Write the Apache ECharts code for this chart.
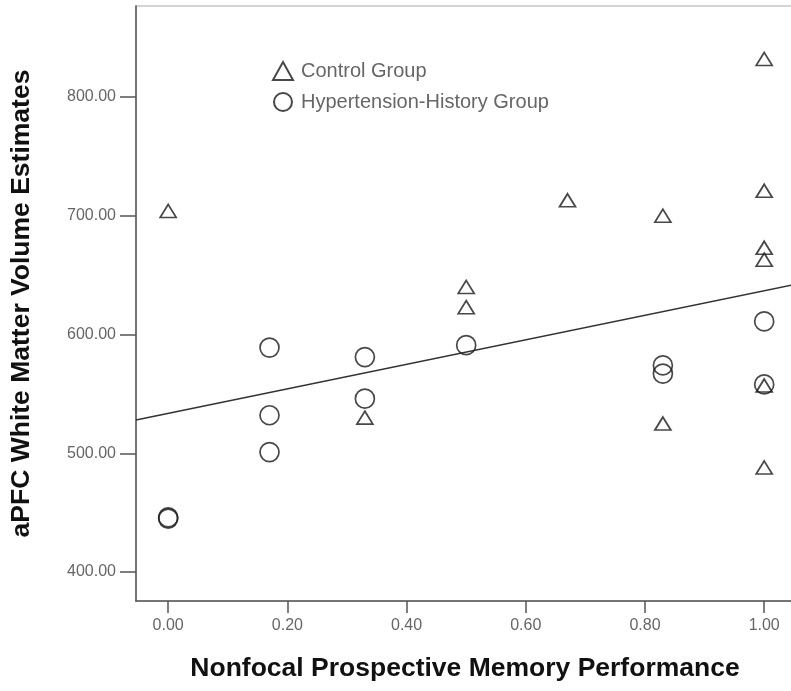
<!DOCTYPE html>
<html>
<head>
<meta charset="utf-8">
<script src="https://cdn.jsdelivr.net/npm/echarts@6/dist/echarts.min.js"></script>
<style>
  html, body { margin: 0; padding: 0; background: #fff; }
  #chart { width: 791px; height: 691px; }
</style>
</head>
<body>
<div id="chart"></div>
<script>
// values
var xTicks = [0, 0.2, 0.4, 0.6, 0.8, 1.0];
var yTicks = [400, 500, 600, 700, 800];

var controlX = [0.00, 0.33, 0.50, 0.50, 0.67, 0.83, 0.83, 1.00, 1.00, 1.00, 1.00, 1.00, 1.00];
var controlY = [704, 530, 640, 623, 713, 700, 525, 832, 721, 673, 663, 557, 488];

var hyperX = [0.00, 0.00, 0.17, 0.17, 0.17, 0.33, 0.33, 0.50, 0.83, 0.83, 1.00, 1.00];
var hyperY = [446, 445, 589, 532, 501, 581, 546, 591, 574, 567, 611, 558];

// fit line end points (x, y)
var fitX = [-0.054, 1.05];
var fitY = [528, 642];

function pairs(xs, ys) {
    var out = [];
    for (var i = 0; i < xs.length; i++) out.push([xs[i], ys[i]]);
    return out;
}

var chart = echarts.init(document.getElementById('chart'));
var font = '"Liberation Sans", Arial, sans-serif';

var option = {
    animation: false,
    backgroundColor: '#fff',
    grid: {
        left: 136, top: 6, right: -3, bottom: 90,
        outerBoundsMode: 'none',
        show: true, borderColor: '#c8c8c8', borderWidth: 1.5
    },
    legend: {
        orient: 'vertical',
        left: 267, top: 56,
        itemWidth: 20, itemHeight: 18, itemGap: 11,
        textStyle: { fontFamily: font, fontSize: 20, color: '#666', padding: [0, 0, 0, 3] },
        data: ['Control Group', 'Hypertension-History Group']
    },
    xAxis: {
        type: 'value',
        min: -0.054, max: 1.05,
        splitLine: { show: false },
        axisLine: { show: true, onZero: false, lineStyle: { color: '#555', width: 1.5 } },
        axisTick: { show: true, length: 12, customValues: xTicks, lineStyle: { color: '#555', width: 1.5 } },
        axisLabel: {
            customValues: xTicks, margin: 17,
            fontFamily: font, fontSize: 16, color: '#666',
            formatter: function (v) { return v.toFixed(2); }
        },
        name: 'Nonfocal Prospective Memory Performance',
        nameLocation: 'middle', nameGap: 54,
        nameTextStyle: { fontFamily: font, fontSize: 26.5, fontWeight: 'bold', color: '#111' }
    },
    yAxis: {
        type: 'value',
        min: 375.6, max: 876.6,
        splitLine: { show: false },
        axisLine: { show: true, onZero: false, lineStyle: { color: '#555', width: 1.5 } },
        axisTick: { show: true, length: 16, customValues: yTicks, lineStyle: { color: '#555', width: 1.5 } },
        axisLabel: {
            customValues: yTicks, margin: 20,
            fontFamily: font, fontSize: 16, color: '#666',
            formatter: function (v) { return v.toFixed(2); }
        },
        name: 'aPFC White Matter Volume Estimates',
        nameLocation: 'middle', nameGap: 101, nameRotate: 90,
        nameTextStyle: { fontFamily: font, fontSize: 26.5, fontWeight: 'bold', color: '#111' }
    },
    series: [
        {
            name: 'Fit',
            type: 'line',
            data: pairs(fitX, fitY),
            showSymbol: false,
            lineStyle: { color: '#333', width: 1.5 },
            z: 1
        },
        {
            name: 'Control Group',
            type: 'scatter',
            symbol: 'triangle',
            symbolSize: [16, 13],
            data: pairs(controlX, controlY),
            itemStyle: { color: 'rgba(0,0,0,0)', borderColor: '#1a1a1a', borderWidth: 1.7 },
            z: 3
        },
        {
            name: 'Hypertension-History Group',
            type: 'scatter',
            symbol: 'circle',
            symbolSize: 19,
            data: pairs(hyperX, hyperY),
            itemStyle: { color: 'rgba(0,0,0,0)', borderColor: '#1a1a1a', borderWidth: 1.7 },
            z: 3
        }
    ]
};

chart.setOption(option);
</script>
</body>
</html>
